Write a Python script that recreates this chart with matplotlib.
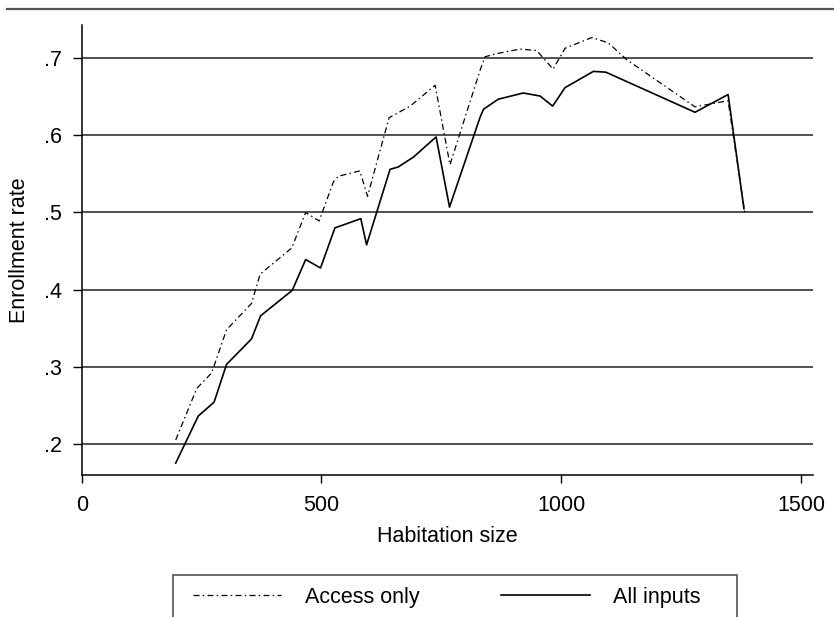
import matplotlib
matplotlib.use("Agg")
import matplotlib.pyplot as plt
from matplotlib.patches import Rectangle
from matplotlib.lines import Line2D

plt.rcParams['font.family'] = ['Liberation Sans', 'DejaVu Sans']

# Access only (dash-dot)
access_x = [196, 240, 271, 302, 354, 372, 438, 467, 495, 525, 535, 580, 596,
            641, 653, 685, 737, 768, 831, 841, 865, 914, 949, 983, 1008, 1064,
            1098, 1137, 1279, 1348, 1383]
access_y = [0.205, 0.272, 0.292, 0.348, 0.382, 0.420, 0.454, 0.500, 0.489,
            0.540, 0.547, 0.554, 0.521, 0.623, 0.627, 0.638, 0.665, 0.562,
            0.685, 0.702, 0.706, 0.712, 0.710, 0.686, 0.713, 0.727, 0.720,
            0.698, 0.637, 0.645, 0.499]

# All inputs (solid)
all_x = [196, 243, 276, 302, 354, 373, 439, 467, 498, 528, 582, 594, 643, 660,
         692, 739, 767, 831, 838, 869, 921, 956, 982, 1008, 1067, 1093, 1279,
         1348, 1381]
all_y = [0.175, 0.236, 0.254, 0.303, 0.336, 0.366, 0.399, 0.439, 0.428, 0.480,
         0.492, 0.458, 0.556, 0.559, 0.572, 0.598, 0.507, 0.624, 0.634, 0.647,
         0.655, 0.651, 0.638, 0.662, 0.683, 0.682, 0.630, 0.653, 0.505]

yticks = [0.2, 0.3, 0.4, 0.5, 0.6, 0.7]
ytick_labels = ['.2', '.3', '.4', '.5', '.6', '.7']
xticks = [0, 500, 1000, 1500]

fig = plt.figure(figsize=(8.34, 6.17), dpi=100)
ax = fig.add_axes([0.098, 0.2301, 0.8768, 0.7294])

dashdot = (0, (4.8, 2.6, 1.2, 2.6))
ax.plot(access_x, access_y, color='black', lw=0.9, linestyle=dashdot)
ax.plot(all_x, all_y, color='black', lw=1.2)

ax.set_xlim(0, 1525)
ax.set_ylim(0.1595, 0.7432)
ax.set_xticks(xticks)
ax.set_xticklabels([str(v) for v in xticks])
ax.set_yticks(yticks)
ax.set_yticklabels(ytick_labels)

ax.grid(axis='y', color='#222222', lw=1.1)
ax.grid(axis='x', visible=False)
ax.set_axisbelow(True)

for s in ['top', 'right']:
    ax.spines[s].set_visible(False)
for s in ['left', 'bottom']:
    ax.spines[s].set_color('black')
    ax.spines[s].set_linewidth(1.1)

ax.tick_params(axis='y', direction='out', length=6.5, width=1.0, pad=8, labelsize=15.5)
ax.tick_params(axis='x', direction='out', length=6, width=1.0, pad=8.5, labelsize=15.5)

ax.set_xlabel('Habitation size', fontsize=15.5, labelpad=7)
ax.set_ylabel('Enrollment rate', fontsize=15.5, labelpad=10)

# rule at the top of the figure
fig.add_artist(Line2D([0.0084, 1.0], [0.9854, 0.9854], transform=fig.transFigure,
                      color='#555555', lw=1.6))

# legend box (bottom clipped by the figure edge)
fig.add_artist(Rectangle((0.2073, -0.0032), 0.6763, 0.0713, transform=fig.transFigure,
                         fill=False, edgecolor='#444444', lw=1.1))

handles = [Line2D([], [], color='black', lw=0.9, linestyle=dashdot),
           Line2D([], [], color='black', lw=1.2)]
fig.legend(handles, ['Access only', 'All inputs'], loc='center left',
           bbox_to_anchor=(0.2314, 0.0324), ncol=2, frameon=False,
           fontsize=15.5, handlelength=4.1, handletextpad=1.1,
           columnspacing=3.8, borderpad=0, borderaxespad=0)

fig.savefig('out.png', dpi=100)
